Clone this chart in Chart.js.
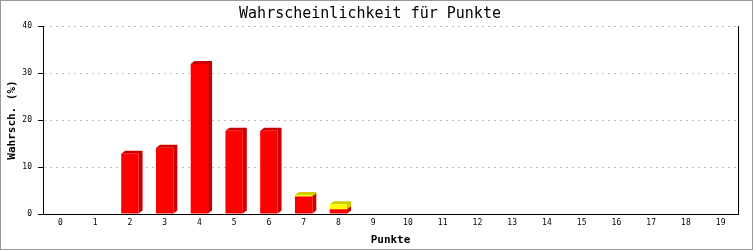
<!DOCTYPE html>
<html>
<head>
<meta charset="utf-8">
<script src="https://cdn.jsdelivr.net/npm/chart.js@4"></script>
<style>
  body { margin: 0; background: #fff; }
  canvas { display: block; }
</style>
</head>
<body>
<canvas id="chart" width="753" height="250"></canvas>
<script>
// Werte
const punkte = ['0','1','2','3','4','5','6','7','8','9','10','11','12','13','14','15','16','17','18','19'];
const rot =   [0, 0, 12.8, 14.1, 31.9, 17.7, 17.7, 3.7, 1.0, 0, 0, 0, 0, 0, 0, 0, 0, 0, 0, 0];
const gelb =  [0, 0, 0, 0, 0, 0, 0, 0.35, 1.1, 0, 0, 0, 0, 0, 0, 0, 0, 0, 0, 0];
const yTicks = [0, 10, 20, 30, 40];

const MONO = '"DejaVu Sans Mono", monospace';

// 3D-Seiten der Balken
const depth3d = {
    id: 'depth3d',
    beforeDatasetsDraw(chart) {
        const ctx = chart.ctx;
        const dx = 4, dy = 3;
        chart.data.datasets.forEach((ds, i) => {
            const meta = chart.getDatasetMeta(i);
            ctx.save();
            ctx.fillStyle = ds.sideColor;
            meta.data.forEach((bar, j) => {
                if (!ds.data[j]) return;
                const p = bar.getProps(['x', 'y', 'base', 'width'], true);
                const x0 = p.x - p.width / 2, x1 = p.x + p.width / 2;
                const top = Math.min(p.y, p.base), bottom = Math.max(p.y, p.base);
                ctx.beginPath();
                ctx.moveTo(x0, top);
                ctx.lineTo(x0 + dx, top - dy);
                ctx.lineTo(x1 + dx, top - dy);
                ctx.lineTo(x1 + dx, bottom - dy);
                ctx.lineTo(x1, bottom);
                ctx.lineTo(x1, top);
                ctx.closePath();
                ctx.fill();
            });
            ctx.restore();
        });
    }
};

// Hintergrund, Rahmen und rechte Linie
const frame = {
    id: 'frame',
    beforeDraw(chart) {
        const ctx = chart.ctx;
        ctx.save();
        ctx.fillStyle = '#fff';
        ctx.fillRect(0, 0, chart.width, chart.height);
        ctx.restore();
    },
    afterDraw(chart) {
        const ctx = chart.ctx;
        const a = chart.chartArea;
        ctx.save();
        ctx.strokeStyle = '#000';
        ctx.lineWidth = 1;
        ctx.beginPath();
        ctx.moveTo(Math.round(a.right) + 0.5, a.top);
        ctx.lineTo(Math.round(a.right) + 0.5, a.bottom);
        ctx.stroke();
        ctx.strokeStyle = '#999';
        ctx.strokeRect(0.5, 0.5, chart.width - 1, chart.height - 1);
        ctx.restore();
    }
};

new Chart(document.getElementById('chart'), {
    type: 'bar',
    data: {
        labels: punkte,
        datasets: [
            { data: rot, backgroundColor: '#ff0000', sideColor: '#cc0000' },
            { data: gelb, backgroundColor: '#ffff00', sideColor: '#cccc00' }
        ]
    },
    options: {
        responsive: false,
        animation: false,
        devicePixelRatio: 1,
        barPercentage: 0.5,
        categoryPercentage: 1,
        layout: { padding: { left: 2, right: 15, top: 0, bottom: 2 } },
        plugins: {
            legend: { display: false },
            tooltip: { enabled: false },
            title: {
                display: true,
                text: 'Wahrscheinlichkeit für Punkte',
                color: '#000',
                font: { family: MONO, size: 15, weight: 'normal' },
                padding: { top: 5, bottom: 3 }
            }
        },
        scales: {
            x: {
                stacked: true,
                grid: { display: false, drawTicks: false, tickLength: 0 },
                border: { display: true, color: '#000', width: 1 },
                ticks: { color: '#000', font: { family: MONO, size: 8 }, padding: 4, maxRotation: 0, autoSkip: false },
                title: {
                    display: true,
                    text: 'Punkte',
                    color: '#000',
                    font: { family: MONO, size: 11, weight: 'bold' },
                    padding: { top: 0, bottom: 1 }
                },
                afterFit(s) { s.height = 34; }
            },
            y: {
                stacked: true,
                min: 0,
                max: 40,
                afterBuildTicks(s) { s.ticks = yTicks.map(v => ({ value: v })); },
                grid: {
                    color: '#bbbbbb',
                    tickColor: '#000',
                    tickLength: 5,
                    tickBorderDash: [],
                    drawTicks: true
                },
                border: { display: true, color: '#000', width: 1, dash: [2, 4] },
                ticks: { color: '#000', font: { family: MONO, size: 8 }, padding: 6 },
                title: {
                    display: true,
                    text: 'Wahrsch. (%)',
                    color: '#000',
                    font: { family: MONO, size: 11, weight: 'bold' },
                    padding: { top: 4, bottom: 0 }
                },
                afterFit(s) { s.width = 41; }
            }
        }
    },
    plugins: [frame, depth3d]
});
</script>
</body>
</html>
